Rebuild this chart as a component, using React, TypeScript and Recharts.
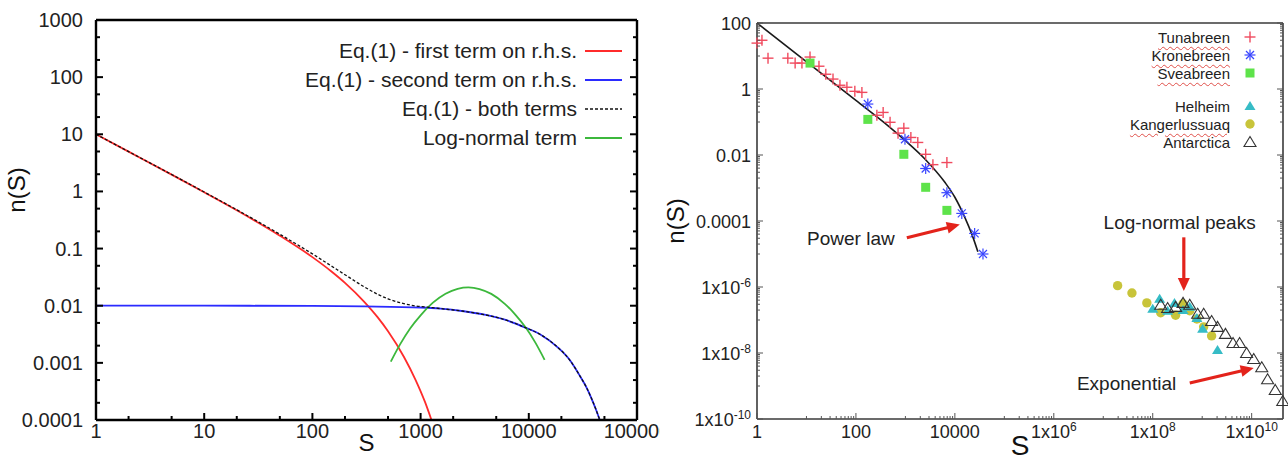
import React from 'react';
import {
  ComposedChart,
  Line,
  Scatter,
  XAxis,
  YAxis,
  Legend,
  ReferenceLine,
  ReferenceDot,
} from 'recharts';

const FONT = '"Liberation Sans", Arial, Helvetica, sans-serif';

// ---------------- Left panel: model curves ----------------
const leftXMajor = [1, 10, 100, 1000, 10000, 100000];
const leftXLabels = ['1', '10', '100', '1000', '10000', '100000'];
const leftXMinor = [2, 5, 20, 50, 200, 500, 2000, 5000, 20000, 50000];
const leftYMajor = [0.0001, 0.001, 0.01, 0.1, 1, 10, 100, 1000];
const leftYLabels = ['0.0001', '0.001', '0.01', '0.1', '1', '10', '100', '1000'];
const leftYMinor = [0.0002, 0.0005, 0.002, 0.005, 0.02, 0.05, 0.2, 0.5, 2, 5, 20, 50, 200, 500];

const firstTermS = [1, 2, 5, 10, 20, 50, 100, 150, 200, 300, 400, 500, 700, 900, 1100, 1260];
const firstTermN = [10, 4.97, 1.97, 0.966, 0.467, 0.168, 0.0708, 0.0397, 0.0251, 0.0118, 0.0063, 0.00357, 0.00128, 0.0005, 0.000205, 0.0001];

const secondTermS = [1, 10, 100, 300, 1000, 1530, 2500, 4000, 6000, 9400, 13000, 18500, 24000, 30000, 34000, 37500, 42000, 45300];
const secondTermN = [0.01, 0.01, 0.0099, 0.0097, 0.0093, 0.0089, 0.008, 0.0069, 0.0057, 0.0041, 0.00308, 0.00187, 0.00111, 0.00057, 0.000377, 0.000252, 0.000148, 0.0001];

const bothTermsS = [1, 2, 5, 10, 20, 50, 100, 150, 200, 300, 400, 500, 700, 900, 1100, 1530, 2500, 4000, 6000, 9400, 13000, 18500, 24000, 30000, 34000, 37500, 42000, 45300];
const bothTermsN = [10.01, 4.98, 1.98, 0.976, 0.477, 0.178, 0.0807, 0.0495, 0.0349, 0.0215, 0.0159, 0.0132, 0.0109, 0.0099, 0.0095, 0.0089, 0.008, 0.0069, 0.0057, 0.0041, 0.00308, 0.00187, 0.00111, 0.00057, 0.000377, 0.000252, 0.000148, 0.0001];

const logNormalS = [530, 650, 800, 1000, 1300, 1700, 2200, 2770, 3500, 4500, 6000, 7500, 9400, 11500, 14000];
const logNormalN = [0.00105, 0.00215, 0.004, 0.0068, 0.0113, 0.0162, 0.0198, 0.0209, 0.0196, 0.0161, 0.0108, 0.007, 0.0041, 0.00226, 0.00113];

const leftSeriesNames = [
  'Eq.(1) - first term on r.h.s.',
  'Eq.(1) - second term on r.h.s.',
  'Eq.(1) - both terms',
  'Log-normal term',
];
const leftSeriesColors = ['#ff2b2b', '#2b2bff', '#111111', '#3cb83c'];

// ---------------- Right panel: observations ----------------
const rightXMajor = [1, 100, 1e4, 1e6, 1e8, 1e10];
const rightXLabels = ['1', '100', '10000', '1x10^6', '1x10^8', '1x10^10'];
const rightXMinorDecades = [10, 1e3, 1e5, 1e7, 1e9];
const rightYMajor = [1e-10, 1e-8, 1e-6, 1e-4, 1e-2, 1, 100];
const rightYLabels = ['1x10^-10', '1x10^-8', '1x10^-6', '0.0001', '0.01', '1', '100'];
const rightYMinorDecades = [1e-9, 1e-7, 1e-5, 1e-3, 0.1, 10];
const minorMultipliers = [1, 2, 3, 4, 5, 6, 7, 8, 9];

const fitS = [1, 9.77, 100, 486, 977, 2477, 6280, 10000, 15900, 22000, 29200];
const fitN = [100, 6.9, 0.45, 0.069, 0.028, 0.0076, 0.00149, 0.000525, 0.000129, 0.00004, 0.0000117];

const tunabreenS = [1, 1.26, 1.67, 4.2, 5.9, 8.1, 11.8, 17.9, 24.6, 34.4, 47.5, 65.7, 95, 132, 265, 355, 490, 710, 930, 1290, 1780, 2570, 3600, 6900];
const tunabreenN = [24.6, 30, 8.6, 8.6, 6.1, 6.1, 9.3, 4.9, 2.8, 2.0, 1.3, 1.13, 0.85, 0.79, 0.16, 0.195, 0.098, 0.046, 0.065, 0.034, 0.024, 0.0105, 0.0051, 0.0059];

const kronebreenS = [174, 980, 2570, 6900, 13800, 25100, 37000];
const kronebreenN = [0.35, 0.03, 0.0039, 0.00072, 0.00017, 0.000042, 0.00001];

const sveabreenS = [11.8, 174, 930, 2570, 6900];
const sveabreenN = [6.1, 0.12, 0.0105, 0.00105, 0.00021];

const helheimS = [1e8, 1.38e8, 2e8, 2.75e8, 4.1e8, 5.6e8, 7.8e8, 1.02e9, 2.04e9];
const helheimN = [2.2e-7, 4.4e-7, 1.9e-7, 3.3e-7, 2.0e-7, 2.5e-7, 1.15e-7, 5.4e-8, 1.23e-8];

const kangerS = [1.95e7, 3.8e7, 7.6e7, 1.45e8, 2.9e8, 4.1e8, 5.6e8, 7.8e8, 1.07e9, 1.55e9];
const kangerN = [1.1e-6, 6.6e-7, 3.3e-7, 1.66e-7, 1.4e-7, 3.1e-7, 1.9e-7, 1.07e-7, 6.2e-8, 3.3e-8];

const antarcticaS = [1.45e8, 2e8, 2.9e8, 4.1e8, 5.6e8, 8.1e8, 1.07e9, 1.55e9, 2.04e9, 2.95e9, 4.2e9, 5.7e9, 7.9e9, 1.1e10, 1.6e10, 2.1e10, 3.0e10, 4.25e10];
const antarcticaN = [2.9e-7, 2.3e-7, 2.5e-7, 3.3e-7, 2.9e-7, 1.55e-7, 1.55e-7, 9.3e-8, 6.2e-8, 3.8e-8, 2.0e-8, 2.0e-8, 1.0e-8, 6.6e-9, 3.7e-9, 1.6e-9, 7.6e-10, 3.5e-10];

const rightGroupA = ['Tunabreen', 'Kronebreen', 'Sveabreen'];
const rightGroupB = ['Helheim', 'Kangerlussuaq', 'Antarctica'];
const underlinedNames = ['Tunabreen', 'Kronebreen', 'Sveabreen', 'Kangerlussuaq'];

const annotationTexts = [
  { text: 'Power law', s: 79, n: 3.1e-5 },
  { text: 'Log-normal peaks', s: 3.5e8, n: 8.9e-5 },
  { text: 'Exponential', s: 2.96e7, n: 1.23e-9 },
];
const annotationArrows = [
  { from: { s: 1070, n: 3.1e-5 }, to: { s: 12600, n: 7.8e-5 } },
  { from: { s: 4.25e8, n: 3.2e-5 }, to: { s: 4.25e8, n: 7.6e-7 } },
  { from: { s: 5.6e8, n: 1.23e-9 }, to: { s: 1.1e10, n: 3.5e-9 } },
];

// ---------------- helpers ----------------
const pts = (s: number[], n: number[]) => s.map((v, i) => ({ s: v, n: n[i] }));
const expand = (decades: number[]) => decades.flatMap((d) => minorMultipliers.map((k) => k * d));

const rightXTicks = [...rightXMajor, ...expand(rightXMinorDecades)].sort((a, b) => a - b);
const rightYTicks = [...rightYMajor, ...expand(rightYMinorDecades)].sort((a, b) => a - b);
const leftXTicks = [...leftXMajor, ...leftXMinor].sort((a, b) => a - b);
const leftYTicks = [...leftYMajor, ...leftYMinor].sort((a, b) => a - b);

type Orient = 'bottom' | 'top' | 'left' | 'right';
interface TickOpts {
  majorLen: number;
  minorLen: number;
  stroke: string;
  sw: number;
  size?: number;
  supSize?: number;
  supDy?: number;
  gap?: number;
  base?: number;
}

function TickText({ x, y, text, anchor, size, supSize, supDy }: any) {
  const parts = String(text).split('^');
  return (
    <text x={x} y={y} textAnchor={anchor} fontSize={size} fontFamily={FONT} fill="#222">
      <tspan>{parts[0]}</tspan>
      {parts.length > 1 && (
        <tspan dy={supDy} fontSize={supSize}>
          {parts[1]}
        </tspan>
      )}
    </text>
  );
}

function makeTick(orient: Orient, majors: number[], labels: string[] | null, o: TickOpts) {
  return (props: any) => {
    const { x, y, payload } = props;
    const v = Number(payload.value);
    const idx = majors.findIndex((m) => Math.abs(m - v) <= Math.abs(m) * 1e-9);
    const major = idx >= 0;
    const len = major ? o.majorLen : o.minorLen;
    let x2 = x;
    let y2 = y;
    if (orient === 'bottom') y2 = y - len;
    else if (orient === 'top') y2 = y + len;
    else if (orient === 'left') x2 = x + len;
    else x2 = x - len;
    let label: React.ReactNode = null;
    if (major && labels) {
      if (orient === 'bottom') {
        label = (
          <TickText x={x} y={y + (o.gap || 0)} text={labels[idx]} anchor="middle" size={o.size} supSize={o.supSize} supDy={o.supDy} />
        );
      } else if (orient === 'left') {
        label = (
          <TickText x={x - (o.gap || 0)} y={y + (o.base || 0)} text={labels[idx]} anchor="end" size={o.size} supSize={o.supSize} supDy={o.supDy} />
        );
      }
    }
    return (
      <g>
        <line x1={x} y1={y} x2={x2} y2={y2} stroke={o.stroke} strokeWidth={o.sw} />
        {label}
      </g>
    );
  };
}

const yTitle = (dx: number, dyFromMid: number, size: number) => (props: any) => {
  const vb = props.viewBox || { x: 0, y: 0, width: 0, height: 0 };
  const cx = vb.x + dx;
  const cy = vb.y + vb.height / 2 + dyFromMid;
  return (
    <text
      transform={`translate(${cx},${cy}) rotate(-90)`}
      textAnchor="middle"
      dominantBaseline="central"
      fontSize={size}
      fontFamily={FONT}
      fill="#111"
    >
      n(S)
    </text>
  );
};

const xTitle = (dy: number, size: number) => (props: any) => {
  const vb = props.viewBox || { x: 0, y: 0, width: 0, height: 0 };
  return (
    <text
      x={vb.x + vb.width / 2}
      y={vb.y + dy}
      textAnchor="middle"
      dominantBaseline="central"
      fontSize={size}
      fontFamily={FONT}
      fill="#111"
    >
      S
    </text>
  );
};

// ---------------- markers ----------------
const PlusMark = ({ cx, cy }: any) => (
  <g stroke="#f04a5e" strokeWidth={1.4}>
    <line x1={cx - 5.5} x2={cx + 5.5} y1={cy} y2={cy} />
    <line x1={cx} x2={cx} y1={cy - 5.5} y2={cy + 5.5} />
  </g>
);
const StarMark = ({ cx, cy }: any) => (
  <g stroke="#3a46ff" strokeWidth={1.2}>
    <line x1={cx - 5.5} x2={cx + 5.5} y1={cy} y2={cy} />
    <line x1={cx} x2={cx} y1={cy - 5.5} y2={cy + 5.5} />
    <line x1={cx - 4} x2={cx + 4} y1={cy - 4} y2={cy + 4} />
    <line x1={cx - 4} x2={cx + 4} y1={cy + 4} y2={cy - 4} />
  </g>
);
const SquareMark = ({ cx, cy }: any) => <rect x={cx - 4.5} y={cy - 4.5} width={9} height={9} fill="#5ee34a" />;
const TriFillMark = ({ cx, cy }: any) => (
  <polygon points={`${cx},${cy - 5} ${cx + 5.5},${cy + 4} ${cx - 5.5},${cy + 4}`} fill="#36bcc6" />
);
const CircleMark = ({ cx, cy }: any) => <circle cx={cx} cy={cy} r={4.7} fill="#c8c43a" />;
const TriOpenMark = ({ cx, cy }: any) => (
  <polygon
    points={`${cx},${cy - 5.5} ${cx + 6},${cy + 4.5} ${cx - 6},${cy + 4.5}`}
    fill="none"
    stroke="#333"
    strokeWidth={1.1}
  />
);

const rightMarks: Record<string, (p: any) => React.ReactElement> = {
  Tunabreen: PlusMark,
  Kronebreen: StarMark,
  Sveabreen: SquareMark,
  Helheim: TriFillMark,
  Kangerlussuaq: CircleMark,
  Antarctica: TriOpenMark,
};

const ArrowShape = (props: any) => {
  const { x1, y1, x2, y2 } = props;
  if ([x1, y1, x2, y2].some((v) => v == null || isNaN(v))) return <g />;
  const dx = x2 - x1;
  const dy = y2 - y1;
  const L = Math.hypot(dx, dy) || 1;
  const ux = dx / L;
  const uy = dy / L;
  const head = 13;
  const half = 6;
  const bx = x2 - ux * head;
  const by = y2 - uy * head;
  return (
    <g>
      <line x1={x1} y1={y1} x2={bx + ux} y2={by + uy} stroke="#e3231b" strokeWidth={3.2} />
      <polygon
        points={`${x2},${y2} ${bx - uy * half},${by + ux * half} ${bx + uy * half},${by - ux * half}`}
        fill="#e3231b"
      />
    </g>
  );
};

// ---------------- legends ----------------
const LeftLegendBox = () => (
  <div style={{ fontFamily: FONT, fontSize: 21, color: '#222' }}>
    {leftSeriesNames.map((name, i) => (
      <div key={name} style={{ display: 'flex', justifyContent: 'flex-end', alignItems: 'center', height: 29 }}>
        <span style={{ whiteSpace: 'nowrap' }}>{name}</span>
        <svg width={45} height={10} style={{ display: 'block' }}>
          <line
            x1={8}
            x2={45}
            y1={5}
            y2={5}
            stroke={leftSeriesColors[i]}
            strokeWidth={i === 2 ? 1.3 : 2}
            strokeDasharray={i === 2 ? '3 2' : undefined}
          />
        </svg>
      </div>
    ))}
  </div>
);

const RightLegendRow = ({ name, extraTop }: { name: string; extraTop?: number }) => {
  const Mark = rightMarks[name];
  const under = underlinedNames.includes(name);
  return (
    <div style={{ display: 'flex', justifyContent: 'flex-end', alignItems: 'center', height: 18, marginTop: extraTop || 0 }}>
      <span
        style={{
          whiteSpace: 'nowrap',
          textDecorationLine: under ? 'underline' : 'none',
          textDecorationStyle: 'wavy',
          textDecorationColor: '#e0504a',
          textDecorationThickness: '1px',
          textUnderlineOffset: '3px',
        }}
      >
        {name}
      </span>
      <svg width={30} height={16} style={{ display: 'block' }}>
        <Mark cx={20} cy={8} />
      </svg>
    </div>
  );
};

const RightLegendBox = () => (
  <div style={{ fontFamily: FONT, fontSize: 15, color: '#222' }}>
    {rightGroupA.map((n) => (
      <RightLegendRow key={n} name={n} />
    ))}
    {rightGroupB.map((n, i) => (
      <RightLegendRow key={n} name={n} extraTop={i === 0 ? 15 : 0} />
    ))}
  </div>
);

// ---------------- charts ----------------
const LEFT_AXIS = { stroke: '#000', strokeWidth: 2.4 };
const leftTickOpts: TickOpts = { majorLen: 7, minorLen: 4, stroke: '#000', sw: 2, size: 20, gap: 18 };

function LeftChart() {
  return (
    <ComposedChart width={660} height={460} margin={{ top: 20, right: 23, bottom: 10, left: 0 }}>
      <XAxis
        dataKey="s"
        type="number"
        scale="log"
        domain={[1, 100000]}
        allowDataOverflow
        ticks={leftXTicks}
        interval={0}
        tickSize={0}
        tickMargin={0}
        height={30}
        axisLine={LEFT_AXIS}
        tickLine={false}
        tick={makeTick('bottom', leftXMajor, leftXLabels, leftTickOpts)}
        label={{ content: xTitle(22, 24) }}
      />
      <XAxis
        xAxisId="top"
        orientation="top"
        mirror
        type="number"
        scale="log"
        domain={[1, 100000]}
        allowDataOverflow
        ticks={leftXTicks}
        interval={0}
        tickSize={0}
        tickMargin={0}
        axisLine={LEFT_AXIS}
        tickLine={false}
        tick={makeTick('top', leftXMajor, null, leftTickOpts)}
      />
      <YAxis
        dataKey="n"
        type="number"
        scale="log"
        domain={[0.0001, 1000]}
        allowDataOverflow
        ticks={leftYTicks}
        interval={0}
        tickSize={0}
        tickMargin={0}
        width={96}
        axisLine={LEFT_AXIS}
        tickLine={false}
        tick={makeTick('left', leftYMajor, leftYLabels, { ...leftTickOpts, gap: 13, base: 7 })}
        label={{ content: yTitle(16, -30, 24) }}
      />
      <YAxis
        yAxisId="right"
        orientation="right"
        mirror
        type="number"
        scale="log"
        domain={[0.0001, 1000]}
        allowDataOverflow
        ticks={leftYTicks}
        interval={0}
        tickSize={0}
        tickMargin={0}
        axisLine={LEFT_AXIS}
        tickLine={false}
        tick={makeTick('right', leftYMajor, null, leftTickOpts)}
      />
      <Legend
        layout="vertical"
        align="center"
        verticalAlign="middle"
        wrapperStyle={{ left: 222, top: 36, width: 400, height: 'auto' }}
        content={() => <LeftLegendBox />}
      />
      <Line
        data={pts(firstTermS, firstTermN)}
        dataKey="n"
        name={leftSeriesNames[0]}
        type="monotone"
        stroke={leftSeriesColors[0]}
        strokeWidth={1.8}
        dot={false}
        isAnimationActive={false}
      />
      <Line
        data={pts(secondTermS, secondTermN)}
        dataKey="n"
        name={leftSeriesNames[1]}
        type="monotone"
        stroke={leftSeriesColors[1]}
        strokeWidth={1.8}
        dot={false}
        isAnimationActive={false}
      />
      <Line
        data={pts(logNormalS, logNormalN)}
        dataKey="n"
        name={leftSeriesNames[3]}
        type="monotone"
        stroke={leftSeriesColors[3]}
        strokeWidth={1.8}
        dot={false}
        isAnimationActive={false}
      />
      <Line
        data={pts(bothTermsS, bothTermsN)}
        dataKey="n"
        name={leftSeriesNames[2]}
        type="monotone"
        stroke={leftSeriesColors[2]}
        strokeWidth={1.3}
        strokeDasharray="3 2"
        dot={false}
        isAnimationActive={false}
      />
    </ComposedChart>
  );
}

const RIGHT_AXIS = { stroke: '#3a3a3a', strokeWidth: 1.6 };
const rightTickOpts: TickOpts = {
  majorLen: 6,
  minorLen: 3,
  stroke: '#555',
  sw: 1,
  size: 18,
  supSize: 12,
  supDy: -7,
  gap: 19,
};

function RightChart() {
  return (
    <ComposedChart width={628} height={460} margin={{ top: 23, right: 5, bottom: 11, left: 0 }}>
      <XAxis
        dataKey="s"
        type="number"
        scale="log"
        domain={[1, 4.3e10]}
        ticks={rightXTicks}
        interval={0}
        tickSize={0}
        tickMargin={0}
        height={30}
        axisLine={RIGHT_AXIS}
        tickLine={false}
        tick={makeTick('bottom', rightXMajor, rightXLabels, rightTickOpts)}
        label={{ content: xTitle(26, 28) }}
      />
      <XAxis
        xAxisId="top"
        orientation="top"
        mirror
        type="number"
        scale="log"
        domain={[1, 4.3e10]}
        allowDataOverflow
        ticks={rightXTicks}
        interval={0}
        tickSize={0}
        tickMargin={0}
        axisLine={RIGHT_AXIS}
        tickLine={false}
        tick={makeTick('top', rightXMajor, null, rightTickOpts)}
      />
      <YAxis
        dataKey="n"
        type="number"
        scale="log"
        domain={[1e-10, 100]}
        ticks={rightYTicks}
        interval={0}
        tickSize={0}
        tickMargin={0}
        width={97}
        axisLine={RIGHT_AXIS}
        tickLine={false}
        tick={makeTick('left', rightYMajor, rightYLabels, { ...rightTickOpts, gap: 6, base: 6.5 })}
        label={{ content: yTitle(15, 0, 24) }}
      />
      <YAxis
        yAxisId="right"
        orientation="right"
        mirror
        type="number"
        scale="log"
        domain={[1e-10, 100]}
        allowDataOverflow
        ticks={rightYTicks}
        interval={0}
        tickSize={0}
        tickMargin={0}
        axisLine={RIGHT_AXIS}
        tickLine={false}
        tick={makeTick('right', rightYMajor, null, rightTickOpts)}
      />
      <Legend
        layout="vertical"
        align="center"
        verticalAlign="middle"
        wrapperStyle={{ left: 300, top: 28, width: 300, height: 'auto' }}
        content={() => <RightLegendBox />}
      />
      <Line
        data={pts(fitS, fitN)}
        dataKey="n"
        name="fit"
        type="monotone"
        stroke="#1a1a1a"
        strokeWidth={1.6}
        dot={false}
        isAnimationActive={false}
        legendType="none"
      />
      <Scatter name="Tunabreen" data={pts(tunabreenS, tunabreenN)} shape={(p: any) => <PlusMark cx={p.cx} cy={p.cy} />} isAnimationActive={false} />
      <Scatter name="Kronebreen" data={pts(kronebreenS, kronebreenN)} shape={(p: any) => <StarMark cx={p.cx} cy={p.cy} />} isAnimationActive={false} />
      <Scatter name="Sveabreen" data={pts(sveabreenS, sveabreenN)} shape={(p: any) => <SquareMark cx={p.cx} cy={p.cy} />} isAnimationActive={false} />
      <Scatter name="Kangerlussuaq" data={pts(kangerS, kangerN)} shape={(p: any) => <CircleMark cx={p.cx} cy={p.cy} />} isAnimationActive={false} />
      <Scatter name="Helheim" data={pts(helheimS, helheimN)} shape={(p: any) => <TriFillMark cx={p.cx} cy={p.cy} />} isAnimationActive={false} />
      <Scatter name="Antarctica" data={pts(antarcticaS, antarcticaN)} shape={(p: any) => <TriOpenMark cx={p.cx} cy={p.cy} />} isAnimationActive={false} />
      {annotationArrows.map((a, i) => (
        <ReferenceLine
          key={`arrow-${i}`}
          segment={[
            { x: a.from.s, y: a.from.n },
            { x: a.to.s, y: a.to.n },
          ]}
          shape={ArrowShape}
        />
      ))}
      {annotationTexts.map((t) => (
        <ReferenceDot
          key={t.text}
          x={t.s}
          y={t.n}
          r={0}
          stroke="none"
          fill="none"
          label={{ value: t.text, position: 'center', fontSize: 19, fill: '#222', fontFamily: FONT }}
        />
      ))}
    </ComposedChart>
  );
}

export default function App() {
  return (
    <div
      style={{
        position: 'absolute',
        left: 0,
        top: 0,
        width: 1288,
        height: 460,
        background: '#fff',
        overflow: 'hidden',
      }}
    >
      <div style={{ position: 'absolute', left: 0, top: 0 }}>
        <LeftChart />
      </div>
      <div style={{ position: 'absolute', left: 660, top: 0 }}>
        <RightChart />
      </div>
    </div>
  );
}
